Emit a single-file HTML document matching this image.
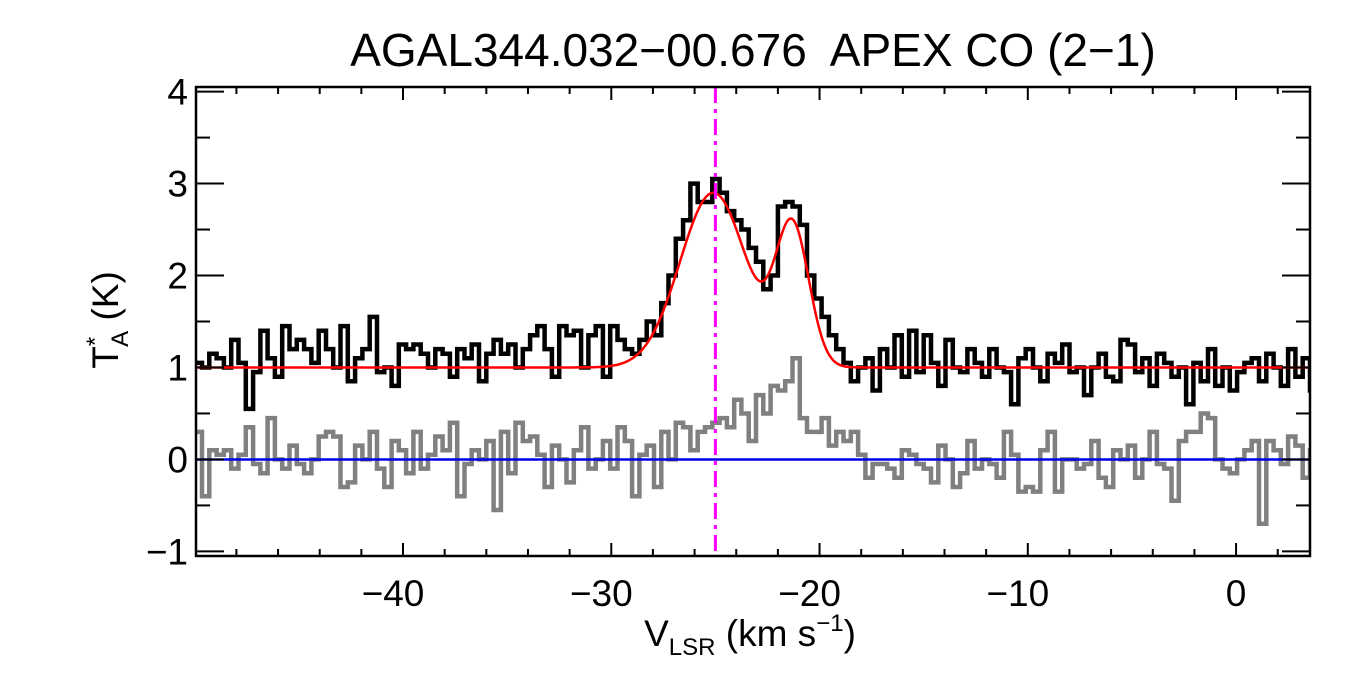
<!DOCTYPE html>
<html><head><meta charset="utf-8"><style>
html,body{margin:0;padding:0;background:#fff;}
svg text{font-family:"Liberation Sans",Arial,sans-serif;fill:#000;white-space:pre;}
</style></head><body>
<svg id="chart" width="1350" height="675" viewBox="0 0 1350 675" xmlns="http://www.w3.org/2000/svg">
<text x="753" y="66" font-size="46" text-anchor="middle" xml:space="preserve">AGAL344.032−00.676  APEX CO (2−1)</text>
<g id="plot"></g>
<g id="axes"></g>
<text x="750" y="646" font-size="37" text-anchor="middle">V<tspan font-size="24" dy="9">LSR</tspan><tspan dy="-9"> (km s</tspan><tspan font-size="24" dy="-15">−1</tspan><tspan dy="15">)</tspan></text>
<text transform="translate(118,320) rotate(-90)" font-size="37" text-anchor="middle">T<tspan font-size="24" dy="-15">*</tspan><tspan font-size="24" dx="-10" dy="25">A</tspan><tspan dy="-10"> (K)</tspan></text>
</svg>
<script>
const vStart = -50, chanWidth = 0.35;
const black = [1.05,1.0,1.15,1.1,1.0,1.3,1.05,0.55,0.95,1.4,1.1,0.9,1.45,1.2,1.3,1.2,1.05,1.4,1.2,1.0,1.45,0.85,1.1,1.2,1.55,0.95,1.0,0.8,1.25,1.2,1.25,1.15,1.0,1.2,1.15,0.9,1.2,1.1,1.25,0.85,1.15,1.3,1.15,1.25,1.0,1.2,1.35,1.45,1.2,0.9,1.45,1.35,1.4,1.0,1.35,1.45,0.9,1.45,1.3,1.2,
1.15,1.3,1.5,1.35,1.7,2.0,2.4,2.6,3.0,2.8,2.8,3.05,2.9,2.7,2.6,2.5,2.3,2.15,1.85,2.0,2.75,2.8,2.75,2.55,2.0,1.75,1.55,1.35,1.2,1.05,
0.85,1.0,1.1,0.75,1.2,1.0,1.35,0.9,1.4,0.95,1.35,1.05,0.8,1.3,1.0,0.95,1.2,1.05,0.9,1.2,1.0,0.95,0.6,1.1,1.2,1.0,0.85,1.15,1.05,1.25,0.95,1.0,0.7,1.0,1.15,0.9,0.85,1.3,1.25,0.95,1.1,0.8,1.15,1.05,0.9,1.0,0.6,1.05,0.85,1.2,0.8,1.0,0.75,0.95,1.05,1.1,0.85,1.15,1.0,0.8,1.2,0.9,1.1,0.75,1.05];
const gray = [0.3,-0.4,0.1,0.05,0.1,-0.1,0.05,0.35,-0.05,-0.15,0.45,0.0,-0.1,0.15,-0.05,-0.15,0.0,0.25,0.3,0.25,-0.3,-0.25,0.15,0.0,0.3,-0.1,-0.3,0.2,0.1,-0.15,0.3,-0.1,0.05,0.25,0.1,0.4,-0.4,-0.05,0.1,0.0,0.2,-0.55,0.3,-0.15,0.4,0.2,0.25,0.05,-0.3,0.15,0.0,-0.25,0.1,0.35,-0.1,0.0,0.2,-0.1,0.35,0.2,
-0.4,0.05,0.15,-0.3,0.3,0.0,0.4,0.35,0.1,0.3,0.35,0.4,0.45,0.35,0.65,0.5,0.2,0.7,0.5,0.8,0.75,0.85,1.1,
0.45,0.3,0.3,0.45,0.15,0.3,0.2,0.3,0.05,-0.2,-0.05,-0.05,-0.1,-0.2,0.1,0.05,-0.05,-0.1,-0.25,0.15,0.0,-0.3,-0.15,0.2,-0.1,0.0,-0.05,-0.2,0.3,0.05,-0.35,-0.3,-0.35,0.1,0.3,-0.35,0.0,0.0,-0.1,-0.05,0.2,-0.2,-0.3,0.1,0.0,0.15,-0.2,0.0,0.3,-0.05,-0.1,-0.45,0.2,0.3,0.3,0.5,0.45,0.0,-0.1,-0.15,0.0,0.1,0.2,-0.7,0.2,0.1,-0.05,0.25,0.15,-0.2,0.1,-0.3];
const fitBase = [1.0];
const fitAmp = [1.9, 1.5];
const fitCenter = [-25.1, -21.3];
const fitSigma = [1.6, 0.8];
const markerVelocity = [-25.0];
const xTicks = [-40,-30,-20,-10,0];
const yTicks = [-1,0,1,2,3,4];

const X0=196,X1=1310,Y0=87,Y1=556;
const xMin=-49.94,xMax=3.55,yMin=-1.05,yMax=4.05;
const sx=v=>X0+(v-xMin)/(xMax-xMin)*(X1-X0);
const sy=t=>Y1-(t-yMin)/(yMax-yMin)*(Y1-Y0);
const NS="http://www.w3.org/2000/svg";
const plot=document.getElementById('plot'), axes=document.getElementById('axes');
function mk(tag,attrs,parent){const e=document.createElementNS(NS,tag);for(const k in attrs)e.setAttribute(k,attrs[k]);parent.appendChild(e);return e;}
const clip=mk('clipPath',{id:'clp'},document.getElementById('chart'));
mk('rect',{x:X0,y:Y0,width:X1-X0,height:Y1-Y0},clip);
plot.setAttribute('clip-path','url(#clp)');
function stepPath(arr){let d='';arr.forEach((t,i)=>{const a=sx(vStart+i*chanWidth),b=sx(vStart+(i+1)*chanWidth),y=sy(t);d+=(i?'L':'M')+a.toFixed(1)+','+y.toFixed(1)+'L'+b.toFixed(1)+','+y.toFixed(1);});return d;}
const gp=mk('path',{d:stepPath(gray),fill:'none',stroke:'#808080','stroke-width':4.5},plot);


const zl=mk('line',{x1:X0,x2:X1,y1:sy(0),y2:sy(0),stroke:'#0000ee','stroke-width':2.5},plot);


const bp=mk('path',{d:stepPath(black),fill:'none',stroke:'#000','stroke-width':4.5},plot);


let fd='';
for(let px=X0;px<=X1;px+=1){const v=xMin+(px-X0)/(X1-X0)*(xMax-xMin);let t=fitBase[0];for(let k=0;k<fitAmp.length;k++)t+=fitAmp[k]*Math.exp(-Math.pow(v-fitCenter[k],2)/(2*fitSigma[k]*fitSigma[k]));fd+=(px===X0?'M':'L')+px+','+sy(t).toFixed(1);}
const fp=mk('path',{d:fd,fill:'none',stroke:'#ff0000','stroke-width':2.5},plot);


const ml=mk('line',{x1:sx(markerVelocity[0]),x2:sx(markerVelocity[0]),y1:Y0,y2:Y1,stroke:'#ff00ff','stroke-width':3,'stroke-dasharray':'16,6,4,6'},plot);


const fr=mk('rect',{x:X0,y:Y0,width:X1-X0,height:Y1-Y0,fill:'none',stroke:'#000','stroke-width':2.5},axes);


for(let v=-50;v<=3;v+=2){const x=sx(v);if(x<X0||x>X1)continue;const major=v%10===0;const L=major?13:7;
mk('line',{x1:x,x2:x,y1:Y1,y2:Y1-L,stroke:'#000','stroke-width':2},axes);
mk('line',{x1:x,x2:x,y1:Y0,y2:Y0+L,stroke:'#000','stroke-width':2},axes);}
for(let t=-1;t<=4;t+=0.5){const y=sy(t);const major=Number.isInteger(t);const L=major?28:14;
mk('line',{x1:X0,x2:X0+L,y1:y,y2:y,stroke:'#000','stroke-width':2},axes);
mk('line',{x1:X1,x2:X1-L,y1:y,y2:y,stroke:'#000','stroke-width':2},axes);}
xTicks.forEach(v=>{const t=mk('text',{x:sx(v)-(v<0?10:0),y:Y1+50,'font-size':37,'text-anchor':'middle'},axes);t.textContent=(v<0?'−':'')+Math.abs(v);

});
yTicks.forEach(v=>{const t=mk('text',{x:X0-8,y:sy(v)+13,'font-size':37,'text-anchor':'end'},axes);t.textContent=(v<0?'−':'')+Math.abs(v);

});
</script>
</body></html>
